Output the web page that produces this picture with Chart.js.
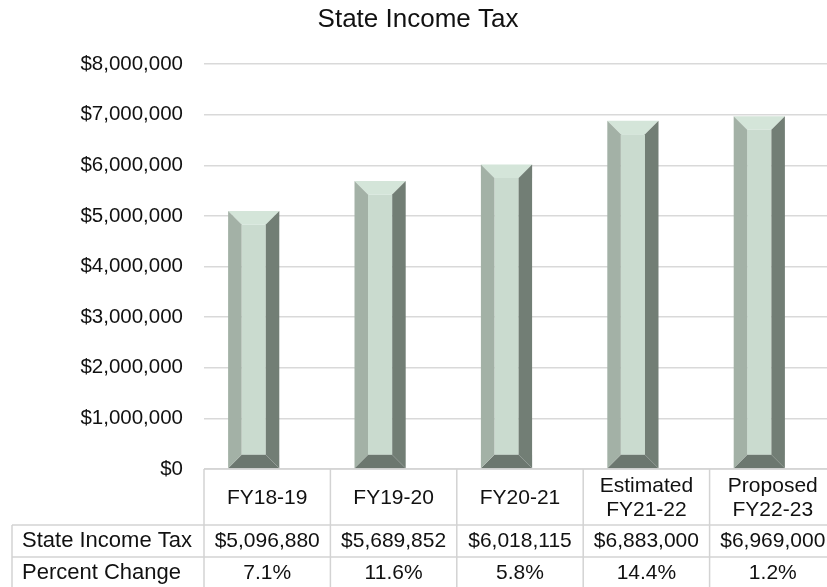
<!DOCTYPE html>
<html>
<head>
<meta charset="utf-8">
<script src="https://cdn.jsdelivr.net/npm/chart.js@4.4.1/dist/chart.umd.min.js"></script>
<style>
  html, body { margin: 0; padding: 0; background: #fff; overflow: hidden; }
  #wrap { width: 827px; height: 587px; overflow: hidden; }
</style>
</head>
<body>
<div id="wrap"><canvas id="myChart" width="836" height="587"></canvas></div>
<script>
//Chart data
const categories = [['FY18-19'], ['FY19-20'], ['FY20-21'], ['Estimated', 'FY21-22'], ['Proposed', 'FY22-23']];
const taxValues = [5096880, 5689852, 6018115, 6883000, 6969000];
const percentChange = ['7.1%', '11.6%', '5.8%', '14.4%', '1.2%'];
const rowNames = ['State Income Tax', 'Percent Change'];
const yMax = 8000000;
const yStep = 1000000;

const FONT = '"Liberation Sans", Arial, sans-serif';

//Formatting a number as dollars
function money(v) {
  return '$' + v.toLocaleString('en-US');
}

//Colours of the bevelled bars
const bevel = {
  face: '#cadbcf',
  top: '#d4e5d9',
  left: '#a3b1a6',
  right: '#727e75',
  bottom: '#6c776f'
};

function poly(ctx, pts, color) {
  ctx.beginPath();
  ctx.moveTo(pts[0][0], pts[0][1]);
  for (let i = 1; i < pts.length; i++) ctx.lineTo(pts[i][0], pts[i][1]);
  ctx.closePath();
  ctx.fillStyle = color;
  ctx.fill();
}

//Plugin that draws each bar as a bevelled block
const bevelBars = {
  id: 'bevelBars',
  afterDatasetsDraw(chart) {
    const ctx = chart.ctx;
    const meta = chart.getDatasetMeta(0);
    const shift = 13.5;
    const d = 13.5;
    ctx.save();
    meta.data.forEach(bar => {
      const p = bar.getProps(['x', 'y', 'base', 'width'], true);
      const L = p.x - p.width / 2 - shift;
      const R = L + p.width;
      const T = p.y;
      const B = p.base;
      poly(ctx, [[L + d, T + d], [R - d, T + d], [R - d, B - d], [L + d, B - d]], bevel.face);
      poly(ctx, [[L, T], [R, T], [R - d, T + d], [L + d, T + d]], bevel.top);
      poly(ctx, [[L, B], [R, B], [R - d, B - d], [L + d, B - d]], bevel.bottom);
      poly(ctx, [[L, T], [L + d, T + d], [L + d, B - d], [L, B]], bevel.left);
      poly(ctx, [[R, T], [R, B], [R - d, B - d], [R - d, T + d]], bevel.right);
    });
    ctx.restore();
  }
};

//Plugin that draws the data table under the plot
const dataTable = {
  id: 'dataTable',
  afterDraw(chart) {
    const ctx = chart.ctx;
    const xs = chart.scales.x;
    const area = chart.chartArea;
    const colW = xs.width / categories.length;
    const top = area.bottom;
    const headH = 56;
    const rowH = 32;
    const leftX = 12;
    const rows = [taxValues.map(money), percentChange];

    ctx.save();
    ctx.strokeStyle = '#d3d3d3';
    ctx.lineWidth = 1.5;
    ctx.beginPath();
    //horizontal lines
    ctx.moveTo(xs.left, top); ctx.lineTo(xs.right, top);
    for (let r = 0; r <= rows.length; r++) {
      const yy = top + headH + r * rowH;
      ctx.moveTo(leftX, yy); ctx.lineTo(xs.right, yy);
    }
    //vertical lines
    for (let c = 0; c <= categories.length; c++) {
      const xx = xs.left + c * colW;
      ctx.moveTo(xx, top); ctx.lineTo(xx, top + headH + rows.length * rowH);
    }
    ctx.moveTo(leftX, top + headH); ctx.lineTo(leftX, top + headH + rows.length * rowH);
    ctx.stroke();

    ctx.fillStyle = '#111';
    ctx.textBaseline = 'middle';
    //header labels
    ctx.textAlign = 'center';
    ctx.font = '21px ' + FONT;
    categories.forEach((lines, i) => {
      const cx = xs.getPixelForValue(i);
      const cy = top + headH / 2 + 1;
      const lh = 24;
      lines.forEach((t, k) => {
        ctx.fillText(t, cx, cy + (k - (lines.length - 1) / 2) * lh);
      });
    });
    //row names
    ctx.textAlign = 'left';
    ctx.font = '22px ' + FONT;
    rowNames.forEach((t, r) => {
      ctx.fillText(t, leftX + 10, top + headH + r * rowH + rowH / 2);
    });
    //row values
    ctx.textAlign = 'center';
    ctx.font = '21px ' + FONT;
    rows.forEach((vals, r) => {
      vals.forEach((t, i) => {
        ctx.fillText(t, xs.getPixelForValue(i), top + headH + r * rowH + rowH / 2);
      });
    });
    ctx.restore();
  }
};

const ctx = document.getElementById('myChart').getContext('2d');
new Chart(ctx, {
  type: 'bar',
  data: {
    labels: categories.map(c => c.join(' ')),
    datasets: [{
      label: rowNames[0],
      data: taxValues,
      backgroundColor: 'rgba(0,0,0,0)',
      borderWidth: 0,
      barPercentage: 0.405,
      categoryPercentage: 1
    }]
  },
  options: {
    responsive: false,
    animation: false,
    layout: { padding: { left: 0, right: 0, top: 0, bottom: 118 } },
    plugins: {
      legend: { display: false },
      tooltip: { enabled: false },
      title: {
        display: true,
        text: 'State Income Tax',
        color: '#111',
        font: { family: FONT, size: 26, weight: 'normal' },
        padding: { top: 4, bottom: 29 }
      }
    },
    scales: {
      x: { display: false },
      y: {
        min: 0,
        max: yMax,
        afterFit(scale) { scale.width = 204; },
        ticks: {
          stepSize: yStep,
          padding: 21,
          color: '#111',
          font: { family: FONT, size: 20.5 },
          callback: v => money(v)
        },
        grid: { color: '#d9d9d9', lineWidth: 1.5, drawTicks: false },
        border: { display: false }
      }
    }
  },
  plugins: [bevelBars, dataTable]
});
</script>
</body>
</html>
